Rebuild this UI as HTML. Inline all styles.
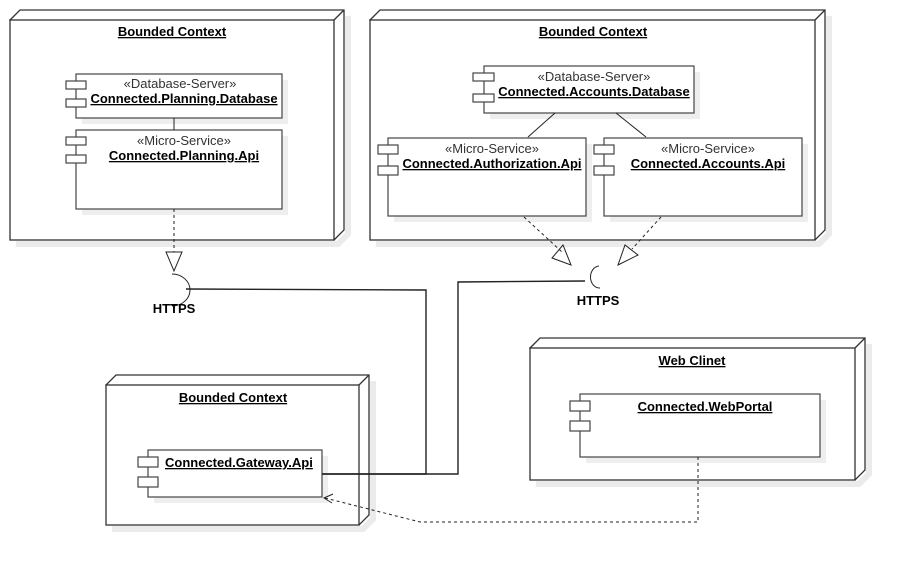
<!DOCTYPE html>
<html><head><meta charset="utf-8"><style>
html,body{margin:0;padding:0;background:#fff;}
svg{display:block;}
text{font-family:"Liberation Sans",sans-serif;font-size:13px;fill:#000;}
.t{font-weight:bold;text-decoration:underline;}
.s{fill:#333;}
</style></head><body>
<svg width="906" height="567" viewBox="0 0 906 567" xmlns="http://www.w3.org/2000/svg">
<g fill="none" stroke="#ebebeb" stroke-width="6">
<polyline points="16,244 338,244 348,234 348,16"/>
<polyline points="376,244 819,244 829,234 829,16"/>
<polyline points="112,529 363,529 373,519 373,381"/>
<polyline points="536,484 859,484 869,474 869,344"/>
</g>
<g fill="#fff" stroke="#333" stroke-width="1.3">
<path d="M10,20 L20,10 L344,10 L344,230 L334,240 Z"/>
<rect x="10" y="20" width="324" height="220"/><line x1="334" y1="20" x2="344" y2="10"/>
<path d="M370,20 L380,10 L825,10 L825,230 L815,240 Z"/>
<rect x="370" y="20" width="445" height="220"/><line x1="815" y1="20" x2="825" y2="10"/>
<path d="M106,385 L116,375 L369,375 L369,515 L359,525 Z"/>
<rect x="106" y="385" width="253" height="140"/><line x1="359" y1="385" x2="369" y2="375"/>
<path d="M530,348 L540,338 L865,338 L865,470 L855,480 Z"/>
<rect x="530" y="348" width="325" height="132"/><line x1="855" y1="348" x2="865" y2="338"/>
</g>
<g fill="#eee" stroke="none">
<rect x="82" y="80" width="206" height="44"/><rect x="82" y="136" width="206" height="79"/>
<rect x="490" y="72" width="210" height="47"/><rect x="394" y="144" width="198" height="78"/>
<rect x="610" y="144" width="198" height="78"/><rect x="154" y="456" width="174" height="47"/>
<rect x="586" y="400" width="240" height="63"/>
</g>
<g fill="#fff" stroke="#444" stroke-width="1.2">
<rect x="76" y="74" width="206" height="44"/><rect x="66" y="81" width="20" height="8"/><rect x="66" y="99" width="20" height="8"/>
<rect x="76" y="130" width="206" height="79"/><rect x="66" y="137" width="20" height="8"/><rect x="66" y="155" width="20" height="8"/>
<rect x="484" y="66" width="210" height="47"/><rect x="473" y="73" width="21" height="8"/><rect x="473" y="94" width="21" height="8"/>
<rect x="388" y="138" width="198" height="78"/><rect x="378" y="145" width="20" height="9"/><rect x="378" y="166" width="20" height="9"/>
<rect x="604" y="138" width="198" height="78"/><rect x="594" y="145" width="20" height="9"/><rect x="594" y="166" width="20" height="9"/>
<rect x="148" y="450" width="174" height="47"/><rect x="138" y="457" width="20" height="10"/><rect x="138" y="477" width="20" height="10"/>
<rect x="580" y="394" width="240" height="63"/><rect x="570" y="401" width="20" height="10"/><rect x="570" y="421" width="20" height="10"/>
</g>
<g stroke="#222" stroke-width="1" fill="none">
<line x1="174" y1="118" x2="174" y2="130"/>
<line x1="555" y1="113" x2="528" y2="137"/>
<line x1="616" y1="113" x2="646" y2="137"/>
<line x1="174" y1="209" x2="174" y2="252" stroke-dasharray="3,3"/>
<polygon points="166,252 182,252 174,271"/>
<path d="M172,274 A9,8 0 0 1 172,306"/>
<polyline points="186,289 426,290 426,474 322,474" stroke-width="1.4"/>
<line x1="524" y1="217" x2="562" y2="252" stroke-dasharray="3,3"/>
<polygon points="552,258 571,265 563,245"/>
<line x1="661" y1="217" x2="632" y2="249" stroke-dasharray="3,3"/>
<polygon points="618,265 638,255 625,245"/>
<path d="M599,266 A9,11 0 0 0 600,288"/>
<polyline points="585,281 458,282 458,474 322,474" stroke-width="1.4"/>
<polyline points="698,457 698,522 420,522 325,498" stroke-dasharray="3,3"/>
<polyline points="333,494 324,498 332,503"/>
</g>
<text x="172" y="36" text-anchor="middle" class="t">Bounded Context</text>
<text x="180" y="88" text-anchor="middle" class="s">«Database-Server»</text>
<text x="184" y="103" text-anchor="middle" class="t">Connected.Planning.Database</text>
<text x="184" y="145" text-anchor="middle" class="s">«Micro-Service»</text>
<text x="184" y="160" text-anchor="middle" class="t">Connected.Planning.Api</text>
<text x="174" y="313" text-anchor="middle" style="font-weight:bold">HTTPS</text>
<text x="593" y="36" text-anchor="middle" class="t">Bounded Context</text>
<text x="594" y="81" text-anchor="middle" class="s">«Database-Server»</text>
<text x="594" y="96" text-anchor="middle" class="t">Connected.Accounts.Database</text>
<text x="492" y="153" text-anchor="middle" class="s">«Micro-Service»</text>
<text x="492" y="168" text-anchor="middle" class="t">Connected.Authorization.Api</text>
<text x="708" y="153" text-anchor="middle" class="s">«Micro-Service»</text>
<text x="708" y="168" text-anchor="middle" class="t">Connected.Accounts.Api</text>
<text x="598" y="305" text-anchor="middle" style="font-weight:bold">HTTPS</text>
<text x="233" y="402" text-anchor="middle" class="t">Bounded Context</text>
<text x="165" y="467" class="t">Connected.Gateway.Api</text>
<text x="692" y="365" text-anchor="middle" class="t">Web Clinet</text>
<text x="705" y="411" text-anchor="middle" class="t">Connected.WebPortal</text>
</svg>
</body></html>
